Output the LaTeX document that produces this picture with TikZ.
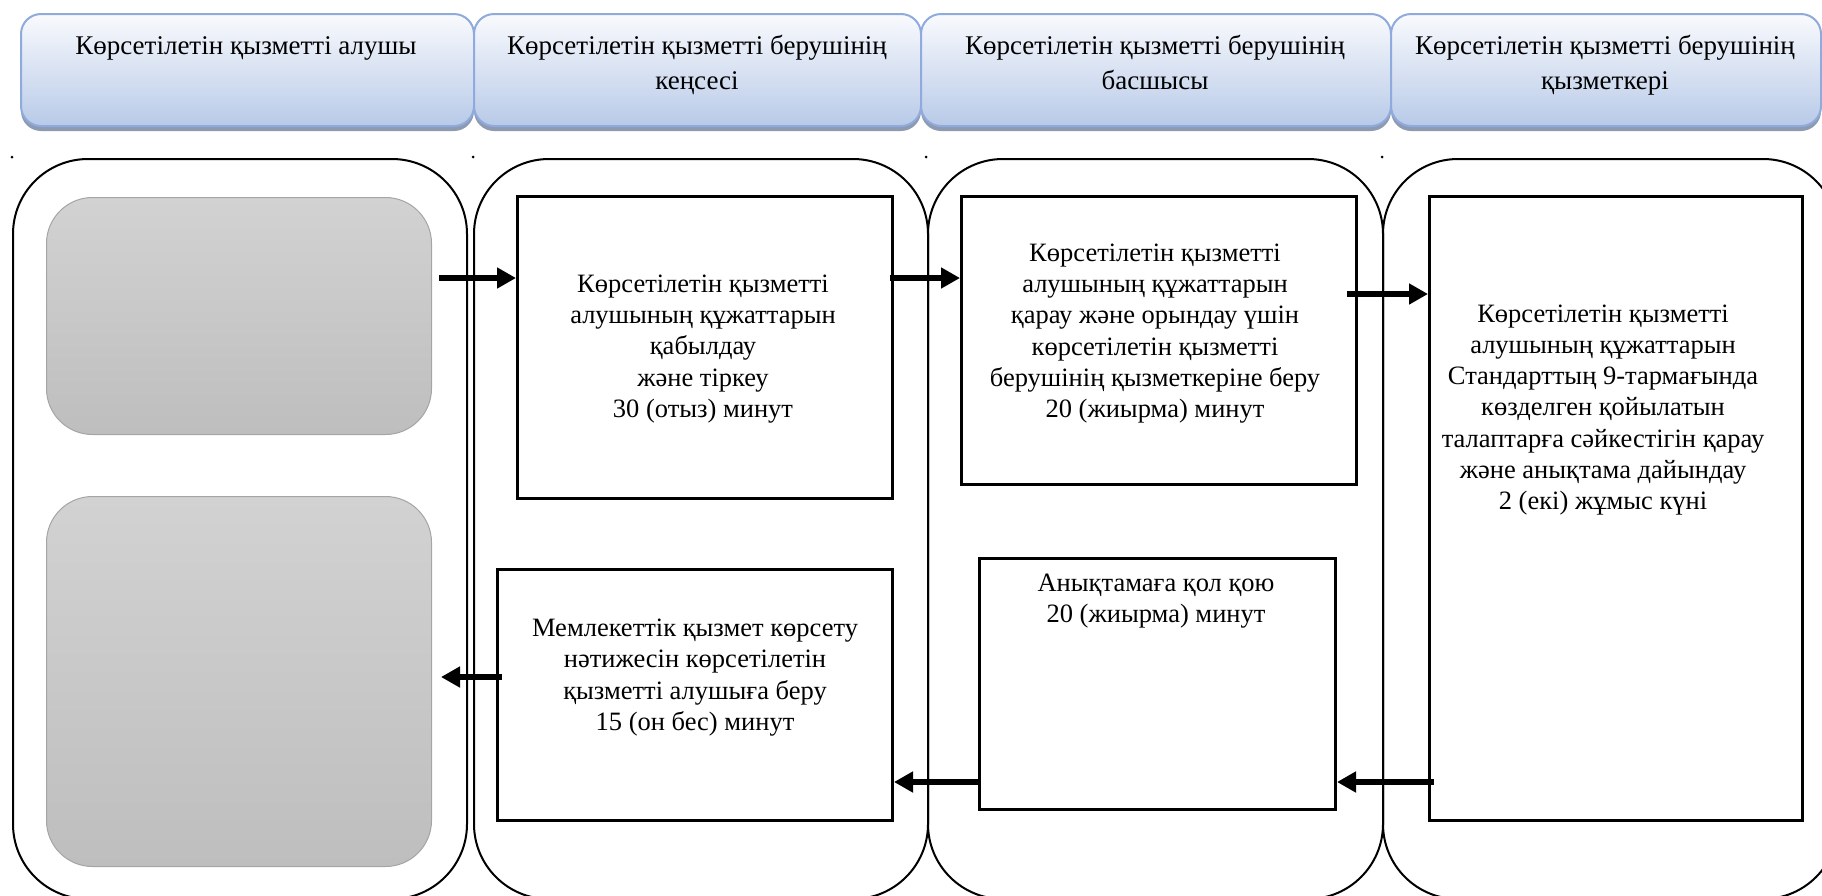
\documentclass[tikz,border=0pt]{standalone}
\usepackage{fontspec}
\setmainfont{Liberation Serif}
\usetikzlibrary{arrows.meta,shadows}
\definecolor{hdrtop}{HTML}{F9FAFD}
\definecolor{hdrbot}{HTML}{B8CAE8}
\definecolor{hdrborder}{HTML}{8FAADC}
\definecolor{hdrshadow}{HTML}{8E9AB2}
\definecolor{graytop}{HTML}{D2D2D2}
\definecolor{graybot}{HTML}{BEBEBE}
\definecolor{graybd}{HTML}{A5A5A5}
\begin{document}
\begin{tikzpicture}[x=1pt,y=-1pt,
  font=\fontsize{26.5}{31.2}\selectfont,
  hdr/.style={draw=hdrborder, line width=2pt, rounded corners=20pt,
    top color=hdrtop, bottom color=hdrbot, anchor=north west, inner sep=0pt,
    drop shadow={shadow xshift=0pt, shadow yshift=-5pt, fill=hdrshadow, opacity=1}},
  hdrtext/.style={align=center, inner sep=0pt, anchor=north, font=\fontsize{27}{35}\selectfont},
  lane/.style={draw=black, line width=2pt, rounded corners=75pt, anchor=north west, inner sep=0pt},
  grayb/.style={draw=graybd, line width=1pt, top color=graytop, bottom color=graybot,
    rounded corners=46pt, anchor=north west, inner sep=0pt},
  proc/.style={draw=black, line width=3pt, fill=white, anchor=north west, inner sep=0pt},
  ptext/.style={align=center, inner sep=0pt},
  arr/.style={line width=6.5pt, -{Triangle[length=19pt,width=20pt]}},
  dot/.style={circle, fill=black, inner sep=0pt, minimum size=3pt}
]
\useasboundingbox (0,0) rectangle (1822,895);
\clip (0,0) rectangle (1822,895);

% header boxes
\node[hdr, minimum width=453pt, minimum height=112pt] (h1) at (20,13) {};
\node[hdr, minimum width=447pt, minimum height=112pt] (h2) at (473,13) {};
\node[hdr, minimum width=470pt, minimum height=112pt] (h3) at (920,13) {};
\node[hdr, minimum width=430pt, minimum height=112pt] (h4) at (1390,13) {};
\node[hdrtext] (h1t) at (246,30) {\strut Көрсетілетін қызметті алушы};
\node[hdrtext] (h2t) at (697,30) {\strut Көрсетілетін қызметті берушінің\\кеңсесі\strut};
\node[hdrtext] (h3t) at (1155,30) {\strut Көрсетілетін қызметті берушінің\\басшысы\strut};
\node[hdrtext] (h4t) at (1605,30) {\strut Көрсетілетін қызметті берушінің\\қызметкері\strut};

% swimlanes
\node[lane, minimum width=454pt, minimum height=740pt] (l1) at (12,158) {};
\node[lane, minimum width=454pt, minimum height=740pt] (l2) at (473,158) {};
\node[lane, minimum width=455pt, minimum height=740pt] (l3) at (927,158) {};
\node[lane, minimum width=455pt, minimum height=740pt] (l4) at (1382,158) {};
\node[dot] (d1) at (12,157) {};
\node[dot] (d2) at (473,157) {};
\node[dot] (d3) at (926,157) {};
\node[dot] (d4) at (1382,157) {};

% grey boxes
\node[grayb, minimum width=385pt, minimum height=237pt] (g1) at (46,197) {};
\node[grayb, minimum width=385pt, minimum height=370pt] (g2) at (46,496) {};

% process boxes
\node[proc, minimum width=375pt, minimum height=302pt] (b1) at (516,195) {};
\node[proc, minimum width=395pt, minimum height=288pt] (b2) at (960,195) {};
\node[proc, minimum width=373pt, minimum height=624pt] (b3) at (1428,195) {};
\node[proc, minimum width=356pt, minimum height=251pt] (b4) at (978,557) {};
\node[proc, minimum width=395pt, minimum height=251pt] (b5) at (496,568) {};

\node[ptext] (b1t) at (703,349) {Көрсетілетін қызметті\\алушының құжаттарын\\қабылдау\\ және тіркеу\\30 (отыз) минут};
\node[ptext] (b2t) at (1155,333.5) {Көрсетілетін қызметті\\алушының құжаттарын\\ қарау және орындау үшін\\көрсетілетін қызметті\\берушінің қызметкеріне беру\\20 (жиырма) минут};
\node[ptext] (b3t) at (1603,410) {Көрсетілетін қызметті\\алушының құжаттарын\\Стандарттың 9-тармағында\\көзделген қойылатын\\талаптарға сәйкестігін қарау\\және анықтама дайындау\\2 (екі) жұмыс күні};
\node[ptext] (b4t) at (1156,601) {Анықтамаға қол қою\\ 20 (жиырма) минут};
\node[ptext] (b5t) at (695,677.5) {Мемлекеттік қызмет көрсету\\нәтижесін көрсетілетін\\қызметті алушыға беру\\ 15 (он бес) минут};

% arrows
\coordinate (y1) at (0,278);
\coordinate (y2) at (0,294);
\coordinate (y3) at (0,782);
\coordinate (y4) at (0,677);
\draw[arr, shorten <=7pt] (g1.east |- y1) -- (b1.west |- y1);
\draw[arr, shorten <=-4pt] (b1.east |- y1) -- (b2.west |- y1);
\draw[arr, shorten <=-11pt] (b2.east |- y2) -- (b3.west |- y2);
\draw[arr, shorten <=-6pt] (b3.west |- y3) -- (b4.east |- y3);
\draw[arr] (b4.west |- y3) -- (b5.east |- y3);
\draw[arr, shorten <=-6pt, shorten >=9pt] (b5.west |- y4) -- (g2.east |- y4);
\end{tikzpicture}
\end{document}
